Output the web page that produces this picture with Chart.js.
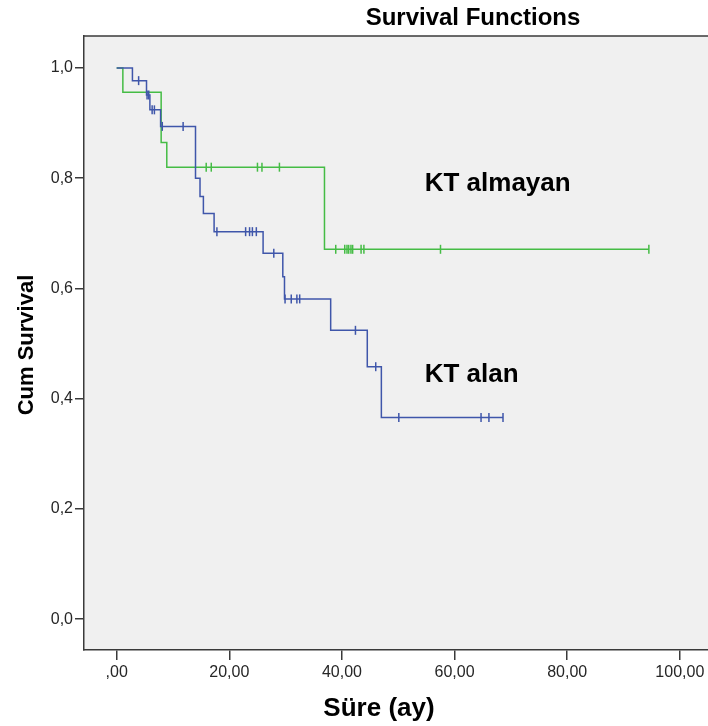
<!DOCTYPE html>
<html><head><meta charset="utf-8">
<script src="https://cdn.jsdelivr.net/npm/chart.js@4.4.1/dist/chart.umd.min.js"></script>
<style>html,body{margin:0;padding:0;background:#fff;overflow:hidden}#wrap{width:708px;height:726px;position:relative}</style>
</head><body><div id="wrap"><canvas id="c" width="708" height="726"></canvas></div>
<script>
const chartTitle = "Survival Functions";
const xAxisTitle = "Süre (ay)";
const yAxisTitle = "Cum Survival";
const groupNames = ["KT alan", "KT almayan"];

// KT alan (blue): event times and survival after each step
const alanEventTimes = [0, 2.8, 5.3, 5.9, 7.8, 14.0, 14.8, 15.4, 17.3, 26.0, 29.5, 29.8, 38.0, 44.5, 47.0, 68.6];
const alanSurvival   = [1.0, 0.977, 0.951, 0.924, 0.894, 0.800, 0.767, 0.736, 0.703, 0.664, 0.621, 0.581, 0.524, 0.458, 0.366, 0.366];
const alanCensorTimes = [3.9, 5.4, 5.7, 6.3, 6.7, 8.1, 11.8, 17.8, 22.9, 23.6, 24.1, 24.8, 27.9, 29.9, 31.0, 32.0, 32.5, 42.4, 46.0, 50.1, 64.7, 66.1, 68.6];

// KT almayan (green)
const almayanEventTimes = [0, 1.1, 7.9, 8.9, 36.9, 94.5];
const almayanSurvival   = [1.0, 0.956, 0.865, 0.820, 0.671, 0.671];
const almayanCensorTimes = [15.9, 16.8, 25.0, 25.8, 28.9, 38.9, 40.5, 40.9, 41.2, 41.6, 41.9, 43.4, 43.9, 57.5, 94.5];

const xTickValues = [0, 20, 40, 60, 80, 100];
const xTickLabels = [",00", "20,00", "40,00", "60,00", "80,00", "100,00"];
const yTickValues = [0, 0.2, 0.4, 0.6, 0.8, 1.0];
const yTickLabels = ["0,0", "0,2", "0,4", "0,6", "0,8", "1,0"];

function survAt(times, surv, t) {
  let s = surv[0];
  for (let i = 0; i < times.length; i++) if (times[i] <= t) s = surv[i];
  return s;
}
const toPts = (xs, ys) => xs.map((x, i) => ({x: x, y: ys[i]}));
const censorPts = (ct, et, sv) => ct.map(t => ({x: t, y: survAt(et, sv, t)}));

const BLUE = '#3F56AA', GREEN = '#45BC45';
const FONT = "'Liberation Sans', Arial, sans-serif";

const decor = {
  id: 'decor',
  beforeDraw(chart) {
    const {ctx, chartArea: a} = chart;
    ctx.save();
    ctx.fillStyle = '#F0F0F0';
    ctx.fillRect(a.left, a.top, a.right - a.left, a.bottom - a.top);
    ctx.restore();
  },
  afterDraw(chart) {
    const {ctx, chartArea: a, scales} = chart;
    ctx.save();
    ctx.strokeStyle = '#3a3a3a'; ctx.lineWidth = 1.5;
    ctx.beginPath(); ctx.moveTo(a.left, a.top); ctx.lineTo(a.right + 2, a.top); ctx.stroke();
    ctx.fillStyle = '#000';
    ctx.textAlign = 'center'; ctx.textBaseline = 'middle';
    ctx.font = "bold 24px " + FONT;
    ctx.fillText(chartTitle, 473, 18);
    ctx.font = "bold 26px " + FONT;
    ctx.fillText(xAxisTitle, 379, 709);
    ctx.save();
    ctx.translate(27, 345); ctx.rotate(-Math.PI / 2);
    ctx.font = "bold 22px " + FONT;
    ctx.fillText(yAxisTitle, 0, 0);
    ctx.restore();
    ctx.textAlign = 'left';
    ctx.font = "bold 26px " + FONT;
    ctx.fillText(groupNames[1], scales.x.getPixelForValue(54.7), scales.y.getPixelForValue(0.79));
    ctx.fillText(groupNames[0], scales.x.getPixelForValue(54.7), scales.y.getPixelForValue(0.443));
    ctx.restore();
  }
};

new Chart(document.getElementById('c'), {
  type: 'line',
  data: {
    datasets: [
      {label: groupNames[1], data: toPts(almayanEventTimes, almayanSurvival), stepped: 'before',
       borderColor: GREEN, borderWidth: 1.5, pointRadius: 0, fill: false, order: 2},
      {label: groupNames[1] + ' censored', data: censorPts(almayanCensorTimes, almayanEventTimes, almayanSurvival),
       showLine: false, pointStyle: 'line', rotation: 90, pointRadius: 4.5, pointBorderColor: GREEN,
       pointBorderWidth: 1.5, borderColor: GREEN, order: 2},
      {label: groupNames[0], data: toPts(alanEventTimes, alanSurvival), stepped: 'before',
       borderColor: BLUE, borderWidth: 1.5, pointRadius: 0, fill: false, order: 1},
      {label: groupNames[0] + ' censored', data: censorPts(alanCensorTimes, alanEventTimes, alanSurvival),
       showLine: false, pointStyle: 'line', rotation: 90, pointRadius: 4.5, pointBorderColor: BLUE,
       pointBorderWidth: 1.5, borderColor: BLUE, order: 1}
    ]
  },
  options: {
    responsive: false, animation: false, devicePixelRatio: 1,
    layout: {autoPadding: false, padding: {top: 36, left: 0, right: 0, bottom: 0}},
    plugins: {legend: {display: false}, tooltip: {enabled: false}, title: {display: false}},
    elements: {line: {tension: 0}},
    scales: {
      x: {
        type: 'linear', min: -5.8, max: 105,
        afterBuildTicks: s => { s.ticks = xTickValues.map(v => ({value: v})); },
        afterFit: s => { s.height = 76; s.paddingLeft = 0; s.paddingRight = 0; },
        ticks: {callback: v => xTickLabels[xTickValues.indexOf(v)], font: {size: 16, family: FONT},
                color: '#262626', padding: 3, maxRotation: 0, autoSkip: false},
        grid: {drawOnChartArea: false, drawTicks: true, tickLength: 10, color: '#3a3a3a', lineWidth: 1.5},
        border: {display: true, color: '#3a3a3a', width: 1.5}
      },
      y: {
        type: 'linear', min: -0.056, max: 1.058,
        afterBuildTicks: s => { s.ticks = yTickValues.map(v => ({value: v})); },
        afterFit: s => { s.width = 84; s.paddingTop = 0; s.paddingBottom = 0; },
        ticks: {callback: v => yTickLabels[yTickValues.findIndex(t => Math.abs(t - v) < 1e-9)],
                font: {size: 16, family: FONT}, color: '#262626', padding: 2, autoSkip: false},
        grid: {drawOnChartArea: false, drawTicks: true, tickLength: 9, color: '#3a3a3a', lineWidth: 1.5},
        border: {display: true, color: '#3a3a3a', width: 1.5}
      }
    }
  },
  plugins: [decor]
});
</script></body></html>
